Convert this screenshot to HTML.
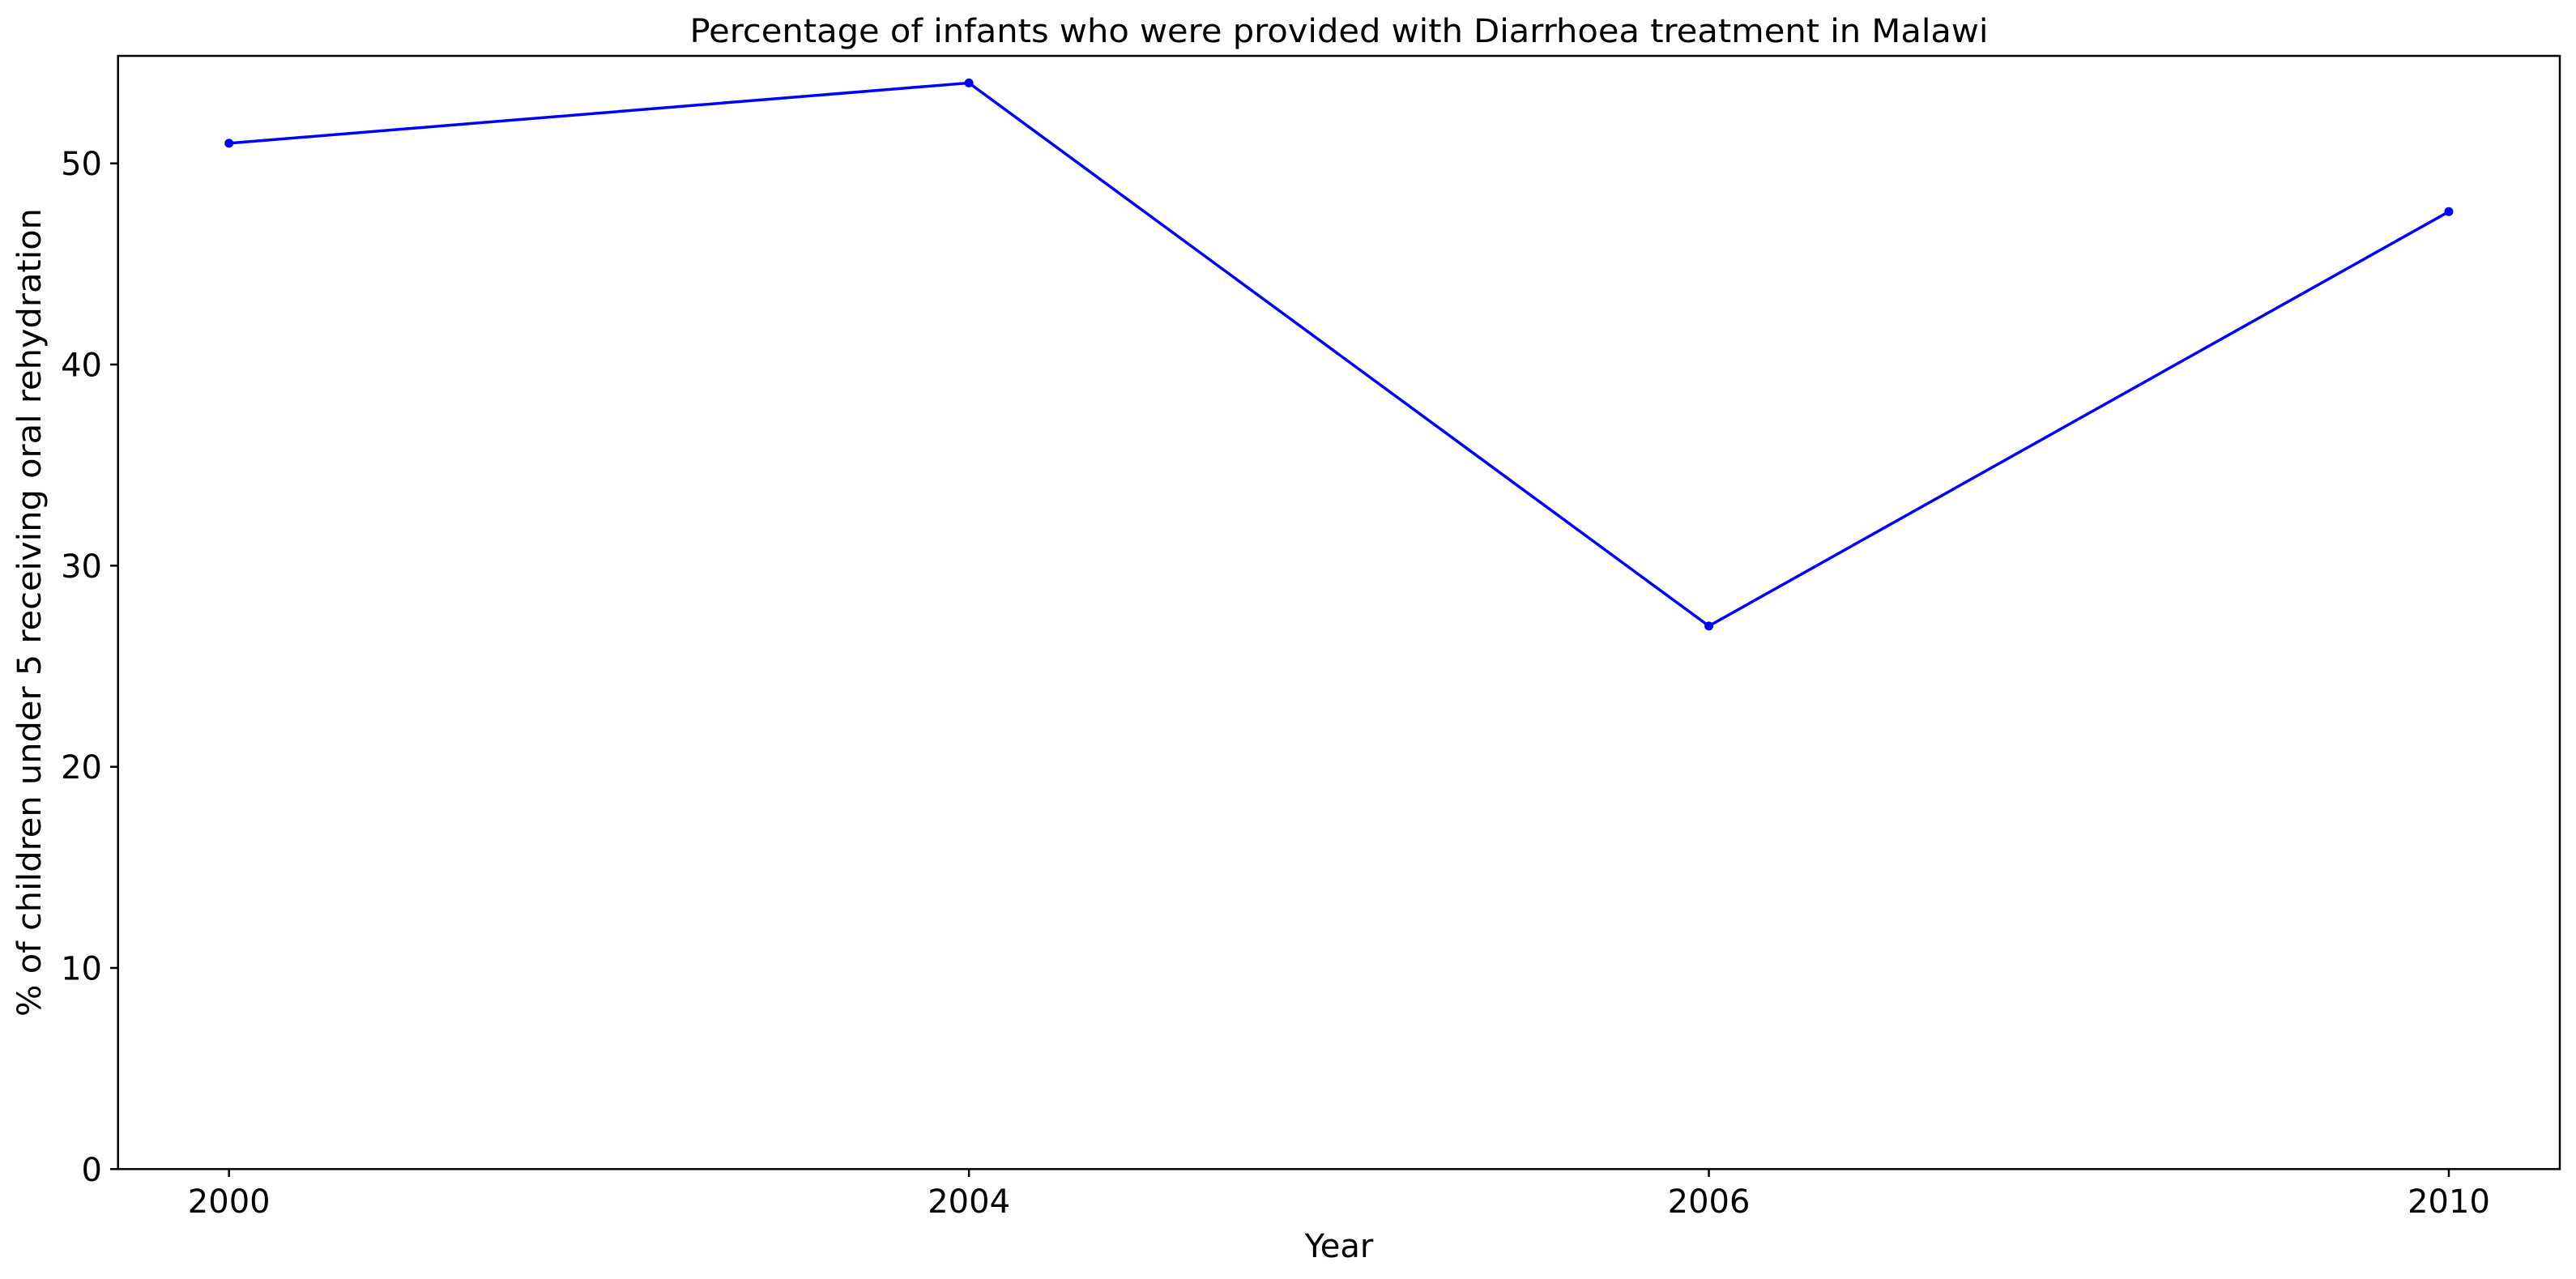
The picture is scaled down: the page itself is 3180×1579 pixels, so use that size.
<!DOCTYPE html>
<html><head><meta charset="utf-8"><style>html,body{margin:0;padding:0;background:#fff}svg{display:block}</style></head>
<body>
<svg id="chart" width="3180" height="1579" viewBox="0 0 3180 1579" xmlns="http://www.w3.org/2000/svg" font-family="'DejaVu Sans','Liberation Sans',sans-serif">
<rect width="3180" height="1579" fill="#fff"/>
<text x="1653" y="52" font-size="40" text-anchor="middle" textLength="1603" lengthAdjust="spacingAndGlyphs">Percentage of infants who were provided with Diarrhoea treatment in Malawi</text>
<text x="1653" y="1552" font-size="40" text-anchor="middle">Year</text>
<text transform="translate(50,756) rotate(-90)" font-size="40" text-anchor="middle" textLength="998" lengthAdjust="spacingAndGlyphs">% of children under 5 receiving oral rehydration</text>
<g id="yticks"></g><g id="xticks"></g><g id="series"></g>
<rect x="145.7" y="69" width="3014.3" height="1374.3" fill="none" stroke="#000" stroke-width="2.5"/>
</svg>
<script>
const categories = ["2000","2004","2006","2010"];
const values = [51, 54, 27, 47.6];
const yTicks = [0,10,20,30,40,50];
const NS="http://www.w3.org/2000/svg";
const y0=1443.3, yPer=(1443.3-201.7)/50;
const yScale=v=>y0-v*yPer;
const x0=282.7, xStep=(3023-282.7)/3;
const xScale=i=>x0+i*xStep;
function mk(t,a,p){const e=document.createElementNS(NS,t);for(const k in a)e.setAttribute(k,a[k]);p.appendChild(e);return e;}
const yt=document.getElementById('yticks');
yTicks.forEach(v=>{
  const l=mk('line',{x1:136,x2:145.7,y1:yScale(v),y2:yScale(v),stroke:'#000','stroke-width':2.5},yt);
  
  
  const t=mk('text',{x:126,y:yScale(v)+14.5,'font-size':40,'text-anchor':'end'},yt);
  t.textContent=v;
  
  
});
const xt=document.getElementById('xticks');
categories.forEach((c,i)=>{
  const l=mk('line',{x1:xScale(i),x2:xScale(i),y1:1443.3,y2:1453,stroke:'#000','stroke-width':2.5},xt);
  
  
  const t=mk('text',{x:xScale(i),y:1497,'font-size':40,'text-anchor':'middle'},xt);
  t.textContent=c;
  
  
});
const s=document.getElementById('series');
const pl=mk('polyline',{points:values.map((v,i)=>xScale(i)+','+yScale(v)).join(' '),fill:'none',stroke:'#0000ff','stroke-width':3.5},s);


values.forEach((v,i)=>{
  const c=mk('circle',{cx:xScale(i),cy:yScale(v),r:5.5,fill:'#0000ff'},s);
  
  
});
</script>
</body></html>
